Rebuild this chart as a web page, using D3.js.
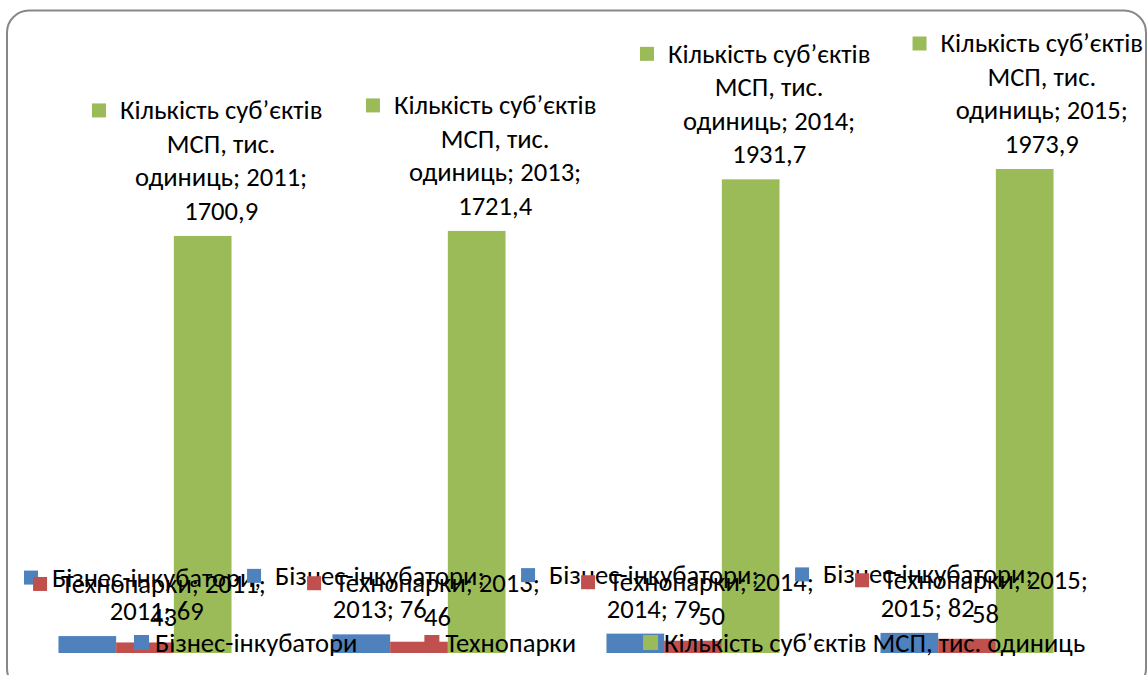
<!DOCTYPE html>
<html>
<head>
<meta charset="utf-8">
<script src="https://cdn.jsdelivr.net/npm/d3@7"></script>
<style>
  body { margin: 0; background: #fff; }
  svg text { font-family: Carlito, "Liberation Sans", Arial, sans-serif; fill: #000; }
</style>
</head>
<body>
<div id="chart"></div>
<script>
var years = ["2011", "2013", "2014", "2015"];
var seriesNames = ["Бізнес-інкубатори", "Технопарки", "Кількість суб’єктів МСП, тис. одиниць"];
var incubators = [69, 76, 79, 82];
var technoparks = [43, 46, 50, 58];
var smeCount = [1700.9, 1721.4, 1931.7, 1973.9];
var colors = ["#4F81BD", "#C0504D", "#9BBB59"];

var width = 1147, height = 675;
var fontSize = 26.6, lineH = 33.5;

var svg = d3.select("#chart").append("svg")
  .attr("width", width).attr("height", height);

// frame
svg.append("rect")
  .attr("x", 7).attr("y", 10.5)
  .attr("width", 1139).attr("height", 680)
  .attr("rx", 22).attr("ry", 22)
  .attr("fill", "#fff")
  .attr("stroke", "#878787").attr("stroke-width", 2);

var x0 = d3.scaleBand().domain(years).range([8, 1104]).padding(0);
var x1 = d3.scaleBand().domain(d3.range(3)).range([0, x0.bandwidth()])
  .paddingInner(0).paddingOuter(0.875);
var y = d3.scaleLinear().domain([0, 2500]).range([653, 40]);

var data = [];
years.forEach(function(yr, i) {
  data.push({year: yr, s: 0, v: incubators[i]});
  data.push({year: yr, s: 1, v: technoparks[i]});
  data.push({year: yr, s: 2, v: smeCount[i]});
});

function fmt(v) { return String(v).replace(".", ","); }

svg.append("g").selectAll("rect")
  .data(data).enter().append("rect")
  .attr("x", function(d) { return x0(d.year) + x1(d.s); })
  .attr("y", function(d) { return y(d.v); })
  .attr("width", x1.bandwidth())
  .attr("height", function(d) { return y(0) - y(d.v); })
  .attr("fill", function(d) { return colors[d.s]; });

function labelLines(d) {
  if (d.s == 0) return ["Бізнес-інкубатори;", d.year + "; " + fmt(d.v)];
  if (d.s == 1) return ["Технопарки; " + d.year + ";", fmt(d.v)];
  return ["Кількість суб’єктів", "МСП, тис.", "одиниць; " + d.year + ";", fmt(d.v)];
}

// data labels
var lg = svg.append("g");
data.forEach(function(d) {
  var lines = labelLines(d);
  var g = lg.append("g");
  var tx = x0(d.year) + x1(d.s) + x1.bandwidth() / 2 + 18.5;
  var lastY = y(d.v) - 25;
  var texts = lines.map(function(t, i) {
    return g.append("text")
      .attr("y", lastY - (lines.length - 1 - i) * lineH)
      .attr("dominant-baseline", "central")
      .attr("text-anchor", "middle")
      .style("font-size", fontSize + "px")
      .text(t);
  });
  var w1 = texts[0].node().getComputedTextLength();
  var wMax = d3.max(texts, function(t) { return t.node().getComputedTextLength(); });
  if (tx - w1 / 2 - 28 < 24) tx = 24 + 28 + w1 / 2;
  if (tx + wMax / 2 > 1143) tx = 1143 - wMax / 2;
  texts.forEach(function(t) { t.attr("x", tx); });
  g.append("rect")
    .attr("x", tx - w1 / 2 - 28).attr("y", lastY - (lines.length - 1) * lineH - 7)
    .attr("width", 14).attr("height", 14)
    .attr("fill", colors[d.s]);
});

// legend
var leg = svg.append("g");
var lx = 134;
seriesNames.forEach(function(name, i) {
  leg.append("rect").attr("x", lx).attr("y", 635)
    .attr("width", 15).attr("height", 15).attr("fill", colors[i]);
  var t = leg.append("text").attr("x", lx + 21).attr("y", 643)
    .attr("dominant-baseline", "central")
    .style("font-size", fontSize + "px")
    .text(name);
  lx += 21 + t.node().getComputedTextLength() + 67;
});
</script>
</body>
</html>
